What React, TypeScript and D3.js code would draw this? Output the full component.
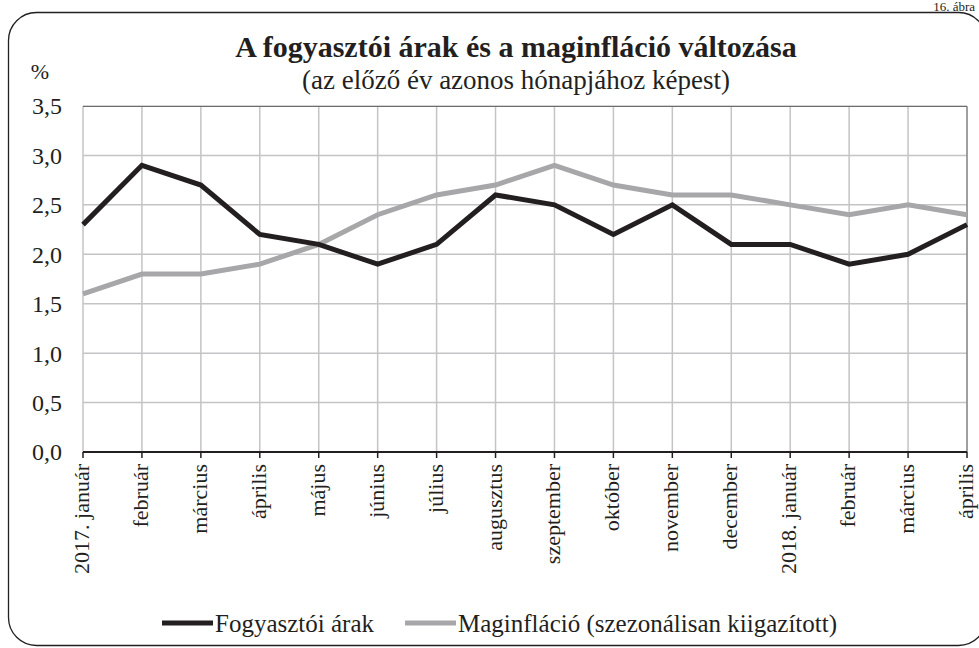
import { useEffect, useRef } from 'react';
import * as d3 from 'd3';

const months = [
  '2017. január', 'február', 'március', 'április', 'május', 'június', 'július', 'augusztus',
  'szeptember', 'október', 'november', 'december', '2018. január', 'február', 'március', 'április'
];
const fogyasztoi = [2.3, 2.9, 2.7, 2.2, 2.1, 1.9, 2.1, 2.6, 2.5, 2.2, 2.5, 2.1, 2.1, 1.9, 2.0, 2.3];
const maginflacio = [1.6, 1.8, 1.8, 1.9, 2.1, 2.4, 2.6, 2.7, 2.9, 2.7, 2.6, 2.6, 2.5, 2.4, 2.5, 2.4];
const yTicks = [0, 0.5, 1, 1.5, 2, 2.5, 3, 3.5];
const seriesNames = ['Fogyasztói árak', 'Maginfláció (szezonálisan kiigazított)'];

const FONT = '"Liberation Serif", "Times New Roman", serif';

export default function App() {
  const svgRef = useRef<SVGSVGElement>(null);

  useEffect(() => {
    if (!svgRef.current) return;
    const width = 979;
    const height = 648;
    const margin = { top: 106, right: 12, bottom: 196, left: 83 };

    const root = d3.select(svgRef.current);
    root.selectAll('*').remove();
    root.attr('width', width).attr('height', height);

    root.append('rect')
      .attr('width', width).attr('height', height)
      .style('fill', '#fff');

    // frame
    root.append('rect')
      .attr('x', 8.5).attr('y', 12.5)
      .attr('width', 978).attr('height', 633)
      .attr('rx', 28)
      .style('fill', 'none')
      .style('stroke', '#231f20')
      .style('stroke-width', 1.3);

    root.append('text')
      .attr('x', 975).attr('y', 11)
      .attr('text-anchor', 'end')
      .text('16. ábra')
      .style('font-family', FONT).style('font-size', '13px').style('fill', '#231f20');

    // titles
    root.append('text')
      .attr('x', 516).attr('y', 57)
      .attr('text-anchor', 'middle')
      .text('A fogyasztói árak és a maginfláció változása')
      .style('font-family', FONT).style('font-size', '30px').style('font-weight', 'bold').style('fill', '#231f20');
    root.append('text')
      .attr('x', 516).attr('y', 89)
      .attr('text-anchor', 'middle')
      .text('(az előző év azonos hónapjához képest)')
      .style('font-family', FONT).style('font-size', '27px').style('fill', '#231f20');
    root.append('text')
      .attr('x', 40).attr('y', 79)
      .attr('text-anchor', 'middle')
      .text('%')
      .style('font-family', FONT).style('font-size', '22px').style('fill', '#231f20');

    const innerW = width - margin.left - margin.right;
    const innerH = height - margin.top - margin.bottom;

    const x = d3.scalePoint<number>()
      .domain(d3.range(months.length))
      .range([0, innerW]);
    const y = d3.scaleLinear().domain([0, 3.5]).range([innerH, 0]);

    const g = root.append('g').attr('transform', `translate(${margin.left},${margin.top})`);

    // grid
    g.selectAll('.hgrid')
      .data(yTicks.slice(1))
      .enter()
      .append('line')
      .attr('x1', 0).attr('x2', innerW)
      .attr('y1', (d) => y(d)).attr('y2', (d) => y(d))
      .style('stroke', '#c4c4c6').style('stroke-width', 1.5);
    g.selectAll('.vgrid')
      .data(d3.range(months.length))
      .enter()
      .append('line')
      .attr('x1', (d) => x(d)!).attr('x2', (d) => x(d)!)
      .attr('y1', 0).attr('y2', innerH)
      .style('stroke', '#c4c4c6').style('stroke-width', 1.5);

    // plot border top/right
    g.append('path')
      .attr('d', `M0,0.5H${innerW}V${innerH}`)
      .style('fill', 'none').style('stroke', '#6d6d6d').style('stroke-width', 1);

    // y labels
    g.selectAll('.ylab')
      .data(yTicks)
      .enter()
      .append('text')
      .attr('x', -21).attr('y', (d) => y(d))
      .attr('dy', '0.35em')
      .attr('text-anchor', 'end')
      .text((d) => d3.format('.1f')(d).replace('.', ','))
      .style('font-family', FONT).style('font-size', '24px').style('fill', '#231f20');

    // x axis
    g.append('line')
      .attr('x1', 0).attr('x2', innerW)
      .attr('y1', innerH).attr('y2', innerH)
      .style('stroke', '#231f20').style('stroke-width', 2);
    g.selectAll('.xtick')
      .data(d3.range(months.length))
      .enter()
      .append('line')
      .attr('x1', (d) => x(d)!).attr('x2', (d) => x(d)!)
      .attr('y1', innerH).attr('y2', innerH + 6)
      .style('stroke', '#231f20').style('stroke-width', 1.5);
    g.selectAll('.xlab')
      .data(months)
      .enter()
      .append('text')
      .attr('transform', (_d, i) => `translate(${x(i)! + 6},${innerH + 12}) rotate(-90)`)
      .attr('text-anchor', 'end')
      .text((d) => d)
      .style('font-family', FONT).style('font-size', '22px').style('fill', '#231f20');

    // lines
    const line = d3.line<number>()
      .x((_d, i) => x(i)!)
      .y((d) => y(d));
    const series = [
      { values: maginflacio, color: '#a7a7a9' },
      { values: fogyasztoi, color: '#231f20' }
    ];
    series.forEach((s) => {
      g.append('path')
        .datum(s.values)
        .attr('d', line)
        .style('fill', 'none')
        .style('stroke', s.color)
        .style('stroke-width', 5)
        .style('stroke-linejoin', 'miter');
    });

    // legend
    const legend = [
      { name: seriesNames[0], color: '#231f20', x: 162 },
      { name: seriesNames[1], color: '#a7a7a9', x: 405 }
    ];
    const lg = root.append('g').attr('transform', 'translate(0,623)');
    legend.forEach((l) => {
      lg.append('line')
        .attr('x1', l.x).attr('x2', l.x + 51)
        .attr('y1', 0).attr('y2', 0)
        .style('stroke', l.color).style('stroke-width', 5);
      lg.append('text')
        .attr('x', l.x + 53).attr('y', 0)
        .attr('dy', '0.35em')
        .text(l.name)
        .style('font-family', FONT).style('font-size', '25px').style('fill', '#231f20');
    });
  }, []);

  return <svg ref={svgRef} style={{ display: 'block', position: 'absolute', left: 0, top: 0 }} />;
}
